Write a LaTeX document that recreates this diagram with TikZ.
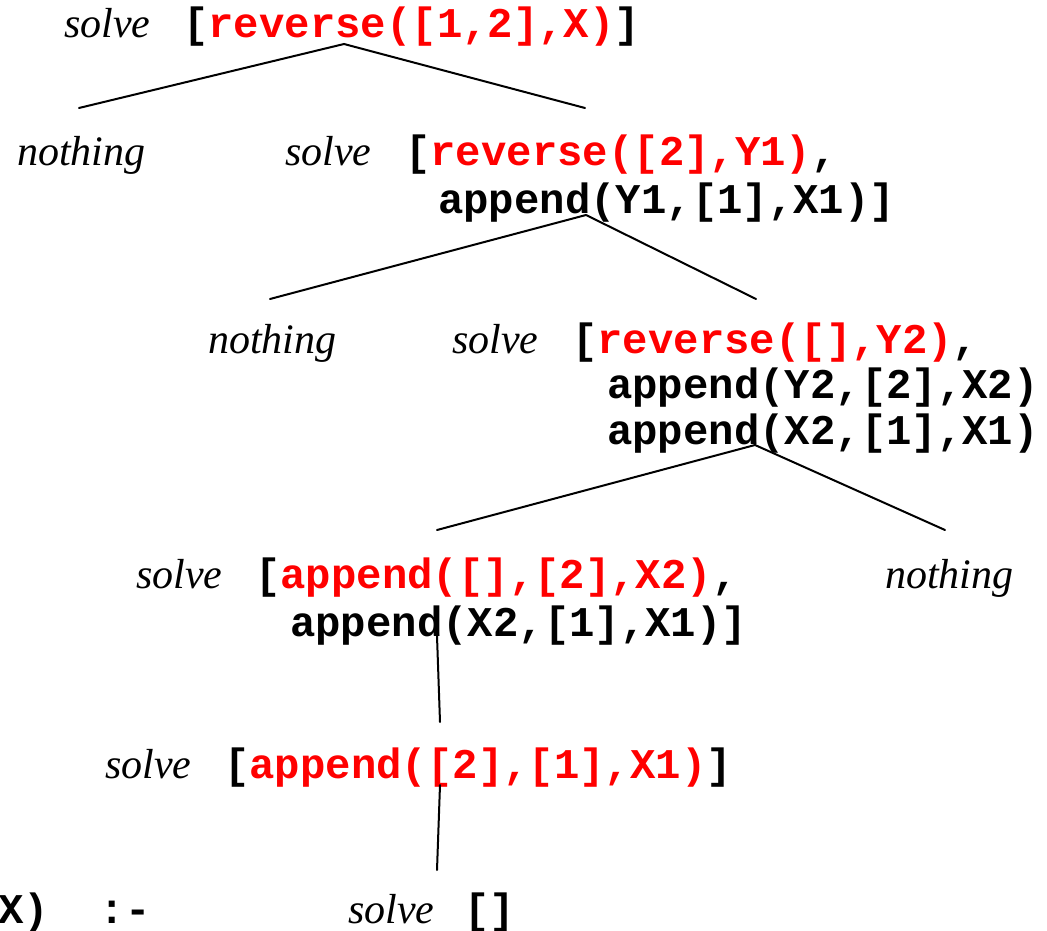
\documentclass[tikz,border=0pt]{standalone}
\usepackage{fontspec}
\setmainfont{Liberation Serif}
\newfontfamily\monob{Liberation Mono}
\begin{document}
\begin{tikzpicture}[x=1pt,y=1pt,
  it/.style={font=\fontsize{42}{42}\selectfont\itshape, inner sep=0pt, anchor=base west},
  code/.style={font=\fontsize{42.3}{42.3}\selectfont\monob\bfseries, inner sep=0pt, anchor=base west},
  edge/.style={line width=2pt, line cap=round}]
\useasboundingbox (0,0) rectangle (1047,-931);
\clip (0,0) rectangle (1047,-931);
% row 1
\node[it]   (s1) at (64,-38) {solve};
\node[code] (c1) at (183,-38) {[\textcolor{red}{reverse([1,2],X)}]};
% row 2
\node[it]   (n2) at (17,-166) {nothing};
\node[it]   (s2) at (285,-166) {solve};
\node[code] (c2) at (405,-166) {[\textcolor{red}{reverse([2],Y1)},};
\node[code] (c2b) at (438,-213) {append(Y1,[1],X1)]};
% row 3
\node[it]   (n3) at (208,-353) {nothing};
\node[it]   (s3) at (452,-353) {solve};
\node[code] (c3) at (572,-353) {[\textcolor{red}{reverse([],Y2)},};
\node[code] (c3b) at (607,-398) {append(Y2,[2],X2)};
\node[code] (c3c) at (607,-444) {append(X2,[1],X1)};
% row 4
\node[it]   (s4) at (136,-588) {solve};
\node[code] (c4) at (255,-588) {[\textcolor{red}{append([],[2],X2)},};
\node[code] (c4b) at (290,-636) {append(X2,[1],X1)]};
\node[it]   (n4) at (885,-588) {nothing};
% row 6 left fragment and row 5
\node[it]   (s5) at (105,-778) {solve};
\node[code] (c5) at (224,-778) {[\textcolor{red}{append([2],[1],X1)}]};
% row 6
\node[code] (c6l) at (-2,-923) {X)~~:-};
\node[it]   (s6) at (348,-923) {solve};
\node[code] (c6) at (464,-923) {[]};
% connector ends
\coordinate (a1) at (344,-44);  \coordinate (l1) at (79,-108);  \coordinate (r1) at (585,-108);
\coordinate (a2) at (586,-215); \coordinate (l2) at (270,-299); \coordinate (r2) at (756,-299);
\coordinate (a3) at (755,-445); \coordinate (l3) at (437,-530); \coordinate (r3) at (945,-530);
\coordinate (a4) at (437,-636); \coordinate (b4) at (440,-722);
\coordinate (a5) at (440,-785); \coordinate (b5) at (437,-870);
\draw[edge] (l1) -- (a1) -- (r1);
\draw[edge] (l2) -- (a2) -- (r2);
\draw[edge] (l3) -- (a3) -- (r3);
\draw[edge] (a4) -- (b4);
\draw[edge] (a5) -- (b5);
\end{tikzpicture}
\end{document}
